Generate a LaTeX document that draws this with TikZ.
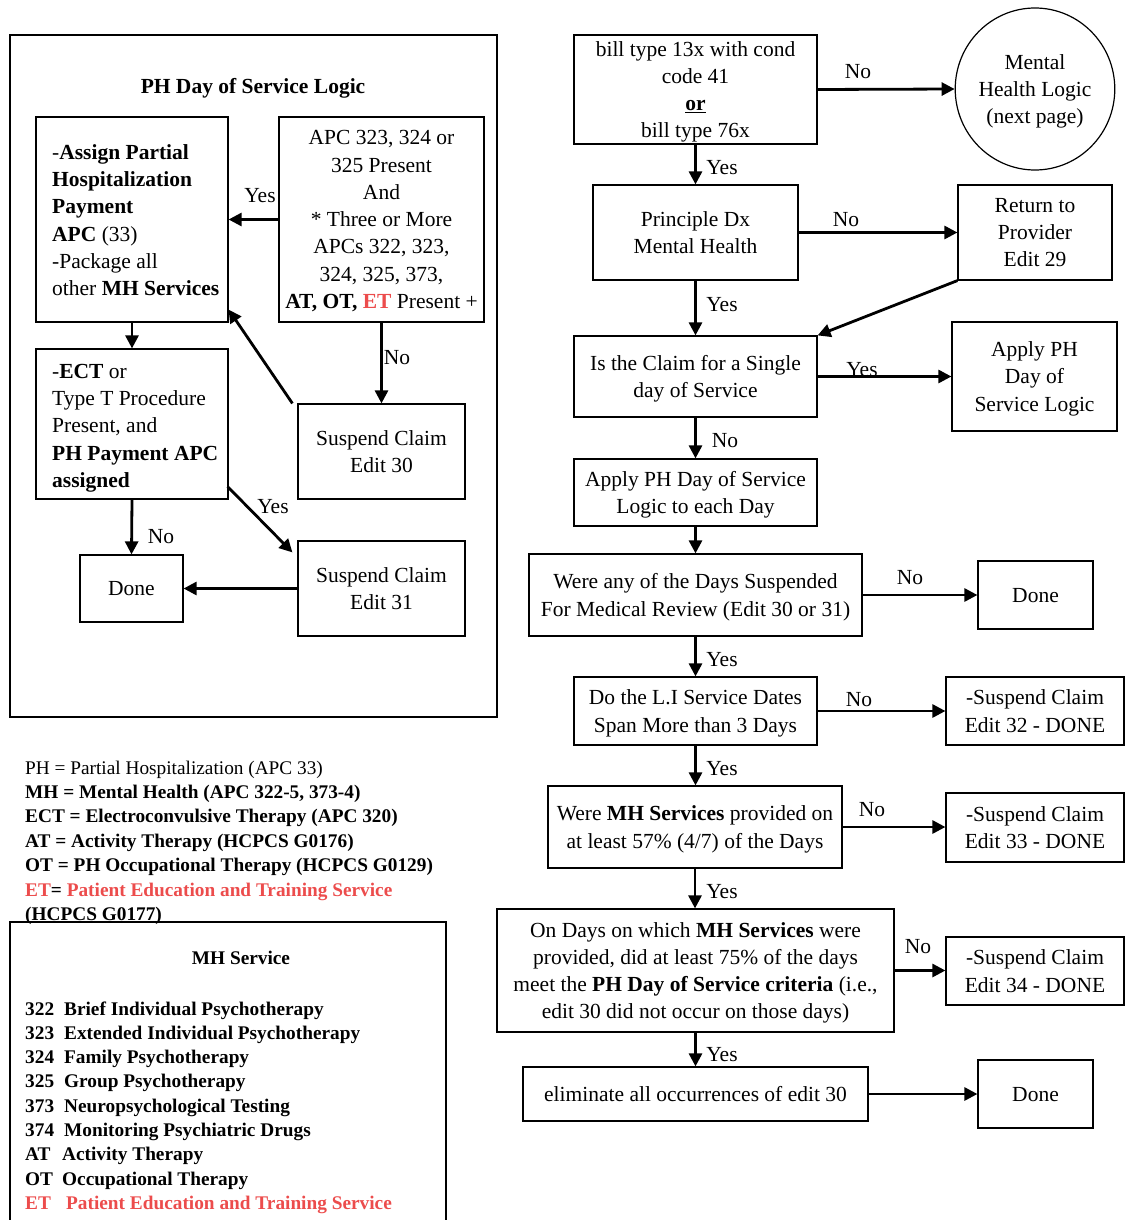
\documentclass[tikz,border=0pt]{standalone}
\usepackage{fontspec}
\setmainfont{Liberation Serif}
\usetikzlibrary{shapes.geometric,arrows.meta,calc}
\definecolor{etred}{RGB}{236,76,76}
\begin{document}
\begin{tikzpicture}[x=1pt,y=-1pt,
  box/.style={draw, line width=1.2pt, inner sep=1pt, align=center, font=\fontsize{21.5}{27.3}\selectfont,
    text depth=-7pt},
  txt/.style={inner sep=0pt, align=left, font=\fontsize{21.5}{27.3}\selectfont},
  lbl/.style={inner sep=0pt, font=\fontsize{21.5}{27.3}\selectfont},
  leg/.style={inner sep=0pt, anchor=base west, font=\fontsize{19.3}{24.4}\selectfont},
  arr/.style={line width=2.8pt, -{Triangle[length=13pt,width=13pt]}},
  frame/.style={line width=1.2pt}
]
\useasboundingbox (0,0) rectangle (1125,1220);

% ---------- left: PH Day of Service Logic ----------
\draw[frame] (10,35) rectangle (497,717);
\node[lbl, font=\fontsize{21.5}{27.3}\selectfont\bfseries] (title) at (253,88) {PH Day of Service Logic};

\node[box, minimum width=192pt, minimum height=205pt] (A) at (132,219.5) {};
\node[txt, anchor=west] (Atxt) at (52,220) {-\textbf{Assign Partial}\\\textbf{Hospitalization}\\\textbf{Payment}\\\textbf{APC} (33)\\-Package all\\other \textbf{MH Services}};

\node[box, minimum width=205pt, minimum height=205pt] (B) at (381.5,219.5)
  {APC 323, 324 or\\325 Present\\And\\* Three or More\\APCs 322, 323,\\324, 325, 373,\\\textbf{AT, OT, }\textcolor{etred}{\textbf{ET}} Present +};

\node[box, minimum width=192pt, minimum height=150pt] (C) at (132,424) {};
\node[txt, anchor=west] (Ctxt) at (52,428) {-\textbf{ECT} or\\Type T Procedure\\Present, and\\\textbf{PH Payment APC}\\\textbf{assigned}};

\node[box, minimum width=167pt, minimum height=95pt] (D) at (381.5,451.5) {Suspend Claim\\Edit 30};
\node[box, minimum width=103pt, minimum height=67pt] (E) at (131.5,588.5) {Done};
\node[box, minimum width=167pt, minimum height=95pt] (F) at (381.5,588.5) {Suspend Claim\\Edit 31};

\draw[arr] (B.west) -- (A.east);
\draw[arr] (A.south) -- (C.north);
\draw[arr] (B.south) -- (D.north);
\draw[arr] ($(D.north west)+(-5,0)$) -- ($(A.south east)+(0,-13)$);
\draw[arr] ($(C.south east)+(-1,-13)$) -- ($(F.north west)+(-5,12)$);
\draw[arr] (C.south) -- (E.north);
\draw[arr] (F.west) -- (E.east);

\node[lbl] (lba) at (260,196) {Yes};
\node[lbl] (lbd) at (397,358) {No};
\node[lbl] (lce) at (161,537) {No};
\node[lbl] (lcf) at (273,507) {Yes};

% ---------- legend ----------
\node[leg] (g1) at (25,774) {PH = Partial Hospitalization (APC 33)};
\node[leg] (g2) at (25,798) {\textbf{MH = Mental Health (APC 322-5, 373-4)}};
\node[leg] (g3) at (25,822.5) {\textbf{ECT = Electroconvulsive Therapy (APC 320)}};
\node[leg] (g4) at (25,847) {\textbf{AT = Activity Therapy (HCPCS G0176)}};
\node[leg] (g5) at (25,871.5) {\textbf{OT = PH Occupational Therapy (HCPCS G0129)}};
\node[leg] (g6) at (25,896) {\textbf{\textcolor{etred}{ET}= \textcolor{etred}{Patient Education and Training Service}}};
\node[leg] (g7) at (25,920) {\textbf{(HCPCS G0177)}};

% ---------- MH Service box ----------
\draw[frame] (10,1224) -- (10,922) -- (446,922) -- (446,1224);
\node[leg, anchor=base] (mht) at (241,964) {\textbf{MH Service}};
\node[leg] (m1) at (25,1015) {\textbf{\makebox[39pt][l]{322}Brief Individual Psychotherapy}};
\node[leg] (m2) at (25,1039) {\textbf{\makebox[39pt][l]{323}Extended Individual Psychotherapy}};
\node[leg] (m3) at (25,1063.3) {\textbf{\makebox[39pt][l]{324}Family Psychotherapy}};
\node[leg] (m4) at (25,1087.6) {\textbf{\makebox[39pt][l]{325}Group Psychotherapy}};
\node[leg] (m5) at (25,1112) {\textbf{\makebox[39pt][l]{373}Neuropsychological Testing}};
\node[leg] (m6) at (25,1136) {\textbf{\makebox[39pt][l]{374}Monitoring Psychiatric Drugs}};
\node[leg] (m7) at (25,1160.5) {\textbf{\makebox[37pt][l]{AT}Activity Therapy}};
\node[leg] (m8) at (25,1185) {\textbf{\makebox[37pt][l]{OT}Occupational Therapy}};
\node[leg] (m9) at (25,1209) {\textbf{\textcolor{etred}{\makebox[41pt][l]{ET}Patient Education and Training Service}}};

% ---------- right column ----------
\node[box, minimum width=243pt, minimum height=109pt] (R1) at (695.5,89.5)
  {bill type 13x with cond\\code 41\\\textbf{\underline{or}}\\bill type 76x};
\node[box, ellipse, inner sep=0pt, minimum width=154pt, minimum height=162pt] (Circ) at (1035,89)
  {Mental\\Health Logic\\(next page)};
\node[box, minimum width=205pt, minimum height=95pt] (R2) at (695.5,232.5) {Principle Dx\\Mental Health};
\node[box, minimum width=154pt, minimum height=95pt] (Ret) at (1035,232.5) {Return to\\Provider\\Edit 29};
\node[box, minimum width=243pt, minimum height=81pt] (R3) at (695.5,376.5) {Is the Claim for a Single\\day of Service};
\node[box, minimum width=165pt, minimum height=109pt] (App) at (1034.5,376.5) {Apply PH\\Day of\\Service Logic};
\node[box, minimum width=243pt, minimum height=67pt] (R4) at (695.5,492.5) {Apply PH Day of Service\\Logic to each Day};
\node[box, minimum width=333pt, minimum height=82pt] (R5) at (695.5,595) {Were any of the Days Suspended\\For Medical Review (Edit 30 or 31)};
\node[box, minimum width=115pt, minimum height=68pt] (Done1) at (1035.5,595) {Done};
\node[box, minimum width=243pt, minimum height=68pt] (R6) at (695.5,711) {Do the L.I Service Dates\\Span More than 3 Days};
\node[box, minimum width=178pt, minimum height=68pt] (S32) at (1035,711) {-Suspend Claim\\Edit 32 - DONE};
\node[box, minimum width=294pt, minimum height=82pt] (R7) at (695,827) {Were \textbf{MH Services} provided on\\at least 57\% (4/7) of the Days};
\node[box, minimum width=178pt, minimum height=69pt] (S33) at (1035,827.5) {-Suspend Claim\\Edit 33 - DONE};
\node[box, minimum width=397pt, minimum height=123pt] (R8) at (695.5,970.5)
  {On Days on which \textbf{MH Services} were\\provided, did at least 75\% of the days\\meet the \textbf{PH Day of Service criteria} (i.e.,\\edit 30 did not occur on those days)};
\node[box, minimum width=178pt, minimum height=68pt] (S34) at (1035,971) {-Suspend Claim\\Edit 34 - DONE};
\node[box, minimum width=345pt, minimum height=54pt] (R9) at (695.5,1094) {eliminate all occurrences of edit 30};
\node[box, minimum width=115pt, minimum height=68pt] (Done2) at (1035.5,1094) {Done};

\draw[arr] (R1.east) -- (Circ.west);
\draw[arr] (R1.south) -- (R2.north);
\draw[arr] (R2.east) -- (Ret.west);
\draw[arr] (R2.south) -- (R3.north);
\draw[arr] (Ret.south west) -- (R3.north east);
\draw[arr] (R3.east) -- (App.west);
\draw[arr] (R3.south) -- (R4.north);
\draw[arr] (R4.south) -- (R5.north);
\draw[arr] (R5.east) -- (Done1.west);
\draw[arr] (R5.south) -- (R6.north);
\draw[arr] (R6.east) -- (S32.west);
\draw[arr] (R6.south) -- (R6.south |- R7.north);
\draw[arr] (R7.east) -- (R7.east -| S33.west);
\draw[arr] (R7.south) -- (R7.south |- R8.north);
\draw[arr] (R8.east) -- (R8.east -| S34.west);
\draw[arr] (R8.south) -- (R9.north);
\draw[arr] (R9.east) -- (Done2.west);

\node[lbl] (l1) at (858,72) {No};
\node[lbl] (l2) at (722,168) {Yes};
\node[lbl] (l3) at (846,220) {No};
\node[lbl] (l4) at (722,305) {Yes};
\node[lbl] (l5) at (862,370) {Yes};
\node[lbl] (l6) at (725,441) {No};
\node[lbl] (l7) at (910,578) {No};
\node[lbl] (l8) at (722,660) {Yes};
\node[lbl] (l9) at (859,700) {No};
\node[lbl] (l10) at (722,769) {Yes};
\node[lbl] (l11) at (872,810) {No};
\node[lbl] (l12) at (722,892) {Yes};
\node[lbl] (l13) at (918,947) {No};
\node[lbl] (l14) at (722,1055) {Yes};
\end{tikzpicture}
\end{document}
